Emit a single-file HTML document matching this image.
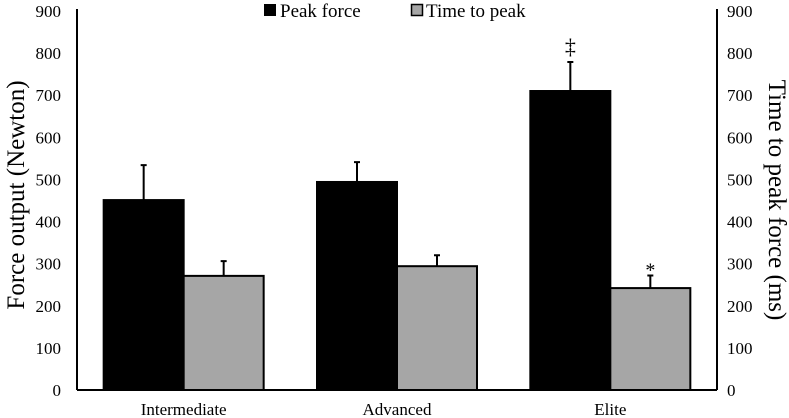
<!DOCTYPE html>
<html><head><meta charset="utf-8"><style>
body{margin:0;background:#fff;}
svg{display:block;font-family:"Liberation Serif",serif;}
</style></head><body>
<svg id="chart" width="789" height="418">
<g id="g"></g>
</svg>
<script>
const categories=["Intermediate","Advanced","Elite"];
const peakForce=[451,494,710];
const peakForceErr=[83,47,69];
const timeToPeak=[271,294,242];
const timeToPeakErr=[35,26,30];
const ticks=[0,100,200,300,400,500,600,700,800,900];
const NS="http://www.w3.org/2000/svg";
const g=document.getElementById('g');
const x0=77,x1=717,y0=390,yTop=11;
const y=v=>y0-(v/900)*(y0-yTop);
const groupW=(x1-x0)/3, barW=80;
function el(t,a,p){const e=document.createElementNS(NS,t);for(const k in a)e.setAttribute(k,a[k]);(p||g).appendChild(e);return e;}
const la=el('line',{x1:x0,y1:yTop-2,x2:x0,y2:y0,stroke:'#000','stroke-width':2});


const ra=el('line',{x1:x1,y1:yTop-2,x2:x1,y2:y0,stroke:'#000','stroke-width':2});


const xa=el('line',{x1:x0,y1:y0,x2:x1,y2:y0,stroke:'#000','stroke-width':2});


ticks.forEach(t=>{
  const a=el('text',{x:61,y:y(t)+6,'text-anchor':'end','font-size':17});a.textContent=t;
  
  
  const b=el('text',{x:727,y:y(t)+6,'font-size':17});b.textContent=t;
  
  
});
categories.forEach((c,i)=>{
  const cx=x0+groupW*(i+0.5);
  const series=[[peakForce[i],peakForceErr[i],'#000','bar-peak-force'],[timeToPeak[i],timeToPeakErr[i],'#a6a6a6','bar-time-to-peak']];
  series.forEach((s,j)=>{
    const bx=cx-barW+j*barW;
    const r=el('rect',{x:bx,y:y(s[0]),width:barW,height:y0-y(s[0]),fill:s[2],stroke:'#000','stroke-width':2});
    
    
    const ex=bx+barW/2;
    const e=el('path',{d:`M${ex},${y(s[0])}V${y(s[0]+s[1])}M${ex-3},${y(s[0]+s[1])}H${ex+3}`,stroke:'#000','stroke-width':2,fill:'none'});
    
    
  });
  const l=el('text',{x:cx,y:415,'text-anchor':'middle','font-size':17});l.textContent=c;
  
  
});
const cxE=x0+groupW*2.5;
const m1=el('text',{x:cxE-barW/2,y:y(peakForce[2]+peakForceErr[2])-8,'text-anchor':'middle','font-size':22});m1.textContent='‡';


const m2=el('text',{x:cxE+barW/2,y:y(timeToPeak[2]+timeToPeakErr[2])+1,'text-anchor':'middle','font-size':20});m2.textContent='*';


const t1=el('text',{x:0,y:0,'font-size':25,'text-anchor':'middle',transform:'translate(24,195) rotate(-90)'});t1.textContent='Force output (Newton)';


const t2=el('text',{x:0,y:0,'font-size':25,'text-anchor':'middle',transform:'translate(769,200) rotate(90)'});t2.textContent='Time to peak force (ms)';


const lg=el('g',{});


const s1=el('rect',{x:264,y:4,width:12,height:12,fill:'#000'},lg);


const l1=el('text',{x:280,y:17,'font-size':19},lg);l1.textContent='Peak force';


const s2=el('rect',{x:411.5,y:4.5,width:11,height:11,fill:'#a6a6a6',stroke:'#000','stroke-width':1.5},lg);


const l2=el('text',{x:426,y:17,'font-size':19},lg);l2.textContent='Time to peak';


</script>
</body></html>
